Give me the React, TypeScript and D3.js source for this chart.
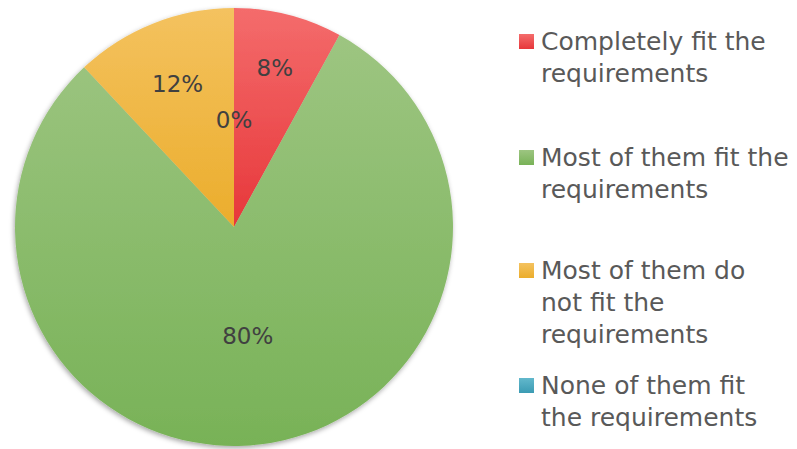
import React from "react";
import * as d3 from "d3";

const categories = [
  "Completely fit the requirements",
  "Most of them fit the requirements",
  "Most of them do not fit the requirements",
  "None of them fit the requirements",
];
const values = [8, 80, 12, 0];
const percentLabels = ["8%", "80%", "12%", "0%"];
const legendLines = [
  ["Completely fit the", "requirements"],
  ["Most of them fit the", "requirements"],
  ["Most of them do", "not fit the", "requirements"],
  ["None of them fit", "the requirements"],
];
const gradTop = ["#f46c6c", "#9dc581", "#f4c25f", "#62b8cc"];
const gradBottom = ["#e7373a", "#78b257", "#ebad2c", "#3b9bb3"];

const W = 797;
const H = 449;
const cx = 234;
const cy = 227;
const R = 219;
const FONT = "'DejaVu Sans', sans-serif";

const labelR = [0.75, 0.5, 0.7, 0.49];
const legendBaselines = [
  [50, 82],
  [166, 198],
  [279, 311, 343],
  [394, 426],
];

export default function App() {
  const pie = d3
    .pie<number>()
    .sort(null)
    .value((d) => d)
    .startAngle(0)
    .endAngle(2 * Math.PI);
  const arcs = pie(values);
  const arc = d3.arc<d3.PieArcDatum<number>>().innerRadius(0).outerRadius(R);

  return (
    <svg width={W} height={H} style={{ display: "block", position: "absolute", left: 0, top: 0 }}>
      <defs>
        {categories.map((_, i) => (
          <linearGradient key={i} id={`g${i}`} x1="0" y1="0" x2="0" y2="1">
            <stop offset="0" stopColor={gradTop[i]} />
            <stop offset="1" stopColor={gradBottom[i]} />
          </linearGradient>
        ))}
        <filter id="shadow" x="-10%" y="-10%" width="120%" height="120%">
          <feDropShadow dx="-1" dy="2" stdDeviation="2.5" floodColor="#000" floodOpacity="0.35" />
        </filter>
      </defs>
      <rect width={W} height={H} fill="#fff" />
      <g transform={`translate(${cx},${cy})`}>
        <g filter="url(#shadow)">
          {arcs.map((a, i) =>
            a.endAngle - a.startAngle > 0 ? (
              <path key={i} d={arc(a) || ""} fill={`url(#g${i})`} />
            ) : null
          )}
        </g>
        {arcs.map((a, i) => {
          const mid = (a.startAngle + a.endAngle) / 2;
          const r = R * labelR[i];
          const x = Math.sin(mid) * r;
          const y = -Math.cos(mid) * r;
          return (
            <text
              key={i}
              x={x}
              y={y}
              textAnchor="middle"
              dominantBaseline="central"
              fontFamily={FONT}
              fontSize={23}
              fill="#404040"
            >
              {percentLabels[i]}
            </text>
          );
        })}
      </g>
      {legendLines.map((lines, i) => (
        <g key={i}>
          <rect x={519} y={legendBaselines[i][0] - 16} width={15} height={15} fill={`url(#g${i})`} />
          {lines.map((ln, j) => (
            <text
              key={j}
              x={541}
              y={legendBaselines[i][j]}
              fontFamily={FONT}
              fontSize={25}
              fill="#595959"
            >
              {ln}
            </text>
          ))}
        </g>
      ))}
    </svg>
  );
}
